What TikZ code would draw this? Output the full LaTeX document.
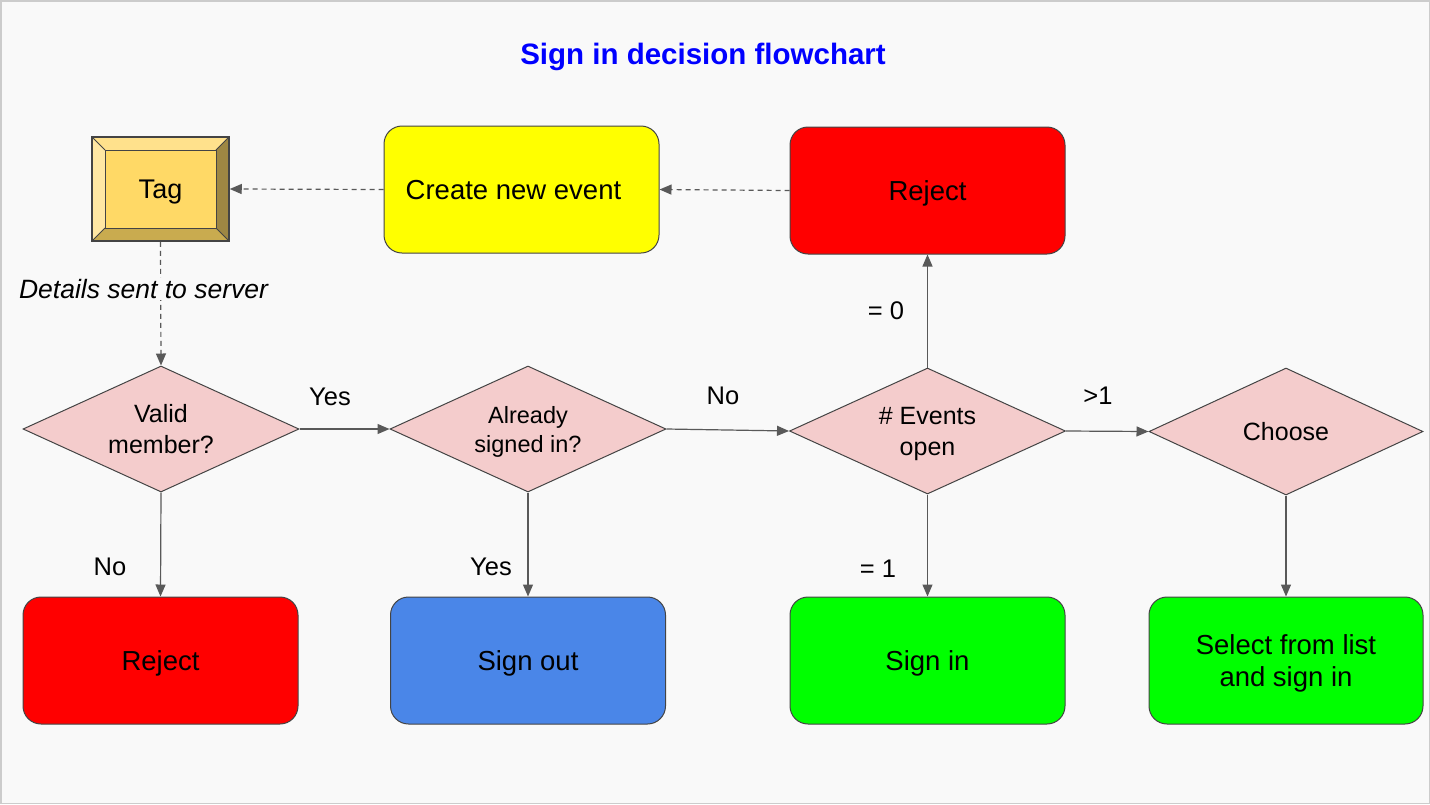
\documentclass[tikz,border=0pt]{standalone}
\usepackage{fontspec}
\setmainfont{Liberation Sans}
\usetikzlibrary{shapes.geometric,arrows.meta}
\definecolor{bgc}{HTML}{F9F9F9}
\definecolor{framec}{HTML}{CCCCCC}
\definecolor{linec}{HTML}{595959}
\definecolor{strokec}{HTML}{444444}
\definecolor{diamondc}{HTML}{F4CCCC}
\definecolor{redc}{HTML}{FF0000}
\definecolor{yellowc}{HTML}{FFFF00}
\definecolor{bluec}{HTML}{4A86E8}
\definecolor{greenc}{HTML}{00FF00}
\definecolor{titlec}{HTML}{0000FF}
\definecolor{tagc}{HTML}{FFD966}
\definecolor{tagtop}{HTML}{FFE18C}
\definecolor{tagleft}{HTML}{FFE7A3}
\definecolor{tagright}{HTML}{9E8743}
\definecolor{tagbottom}{HTML}{C9AB4F}
\begin{document}
\begin{tikzpicture}[x=1pt,y=-1pt,
  boxnode/.style={rectangle, rounded corners=18pt, draw=strokec, line width=1pt,
    minimum width=275pt, minimum height=127pt, align=center, inner sep=0pt,
    text depth=0pt, font=\fontsize{27.5}{32}\selectfont},
  decision/.style={diamond, shape aspect=2.2, draw=strokec, line width=1pt, fill=diamondc,
    minimum width=276pt, minimum height=126pt, inner sep=0pt, align=center,
    text depth=0pt, font=\fontsize{25}{31}\selectfont},
  flow/.style={draw=linec, line width=1.2pt, -{Triangle[length=12pt,width=10pt]}},
  dashflow/.style={flow, dash pattern=on 5pt off 4pt},
  lbl/.style={font=\fontsize{25.5}{30}\selectfont, inner sep=0pt}
]
\fill[bgc] (0,0) rectangle (1430,804);
\draw[framec, line width=1.5pt] (0.75,0.75) rectangle (1429.25,803.25);
\useasboundingbox (0,0) rectangle (1430,804);

\node[font=\fontsize{29.5}{34}\selectfont\bfseries, text=titlec] (title) at (703,57) {Sign in decision flowchart};

% Tag bevel box
\fill[tagtop] (92,137) -- (229,137) -- (216,150) -- (105,150) -- cycle;
\fill[tagleft] (92,137) -- (105,150) -- (105,228) -- (92,241) -- cycle;
\fill[tagright] (229,137) -- (216,150) -- (216,228) -- (229,241) -- cycle;
\fill[tagbottom] (92,241) -- (105,228) -- (216,228) -- (229,241) -- cycle;
\draw[strokec, line width=1pt] (92,137) -- (105,150) (229,137) -- (216,150) (229,241) -- (216,228) (92,241) -- (105,228);
\draw[strokec, line width=1pt, fill=tagc] (105,150) rectangle (216,228);
\node[draw=strokec, line width=1.5pt, minimum width=137pt, minimum height=104pt, inner sep=0pt,
  text depth=0pt, font=\fontsize{27}{30}\selectfont] (tag) at (160.5,189) {Tag};

\node[boxnode, fill=yellowc] (create) at (521.5,189.5) {Create new event\hspace*{16pt}};
\node[boxnode, fill=redc] (rejecttop) at (927.5,190.5) {Reject};

\node[decision] (valid) at (161,429) {Valid\\member?};
\node[decision, font=\fontsize{23.5}{29}\selectfont] (already) at (528,429) {Already\\signed in?};
\node[decision] (events) at (927.5,431) {\# Events\\open};
\node[decision, minimum width=274pt, minimum height=127pt] (choose) at (1286,431.5) {Choose};

\node[boxnode, fill=redc] (rejectbot) at (160.5,660.5) {Reject};
\node[boxnode, fill=bluec] (signout) at (528,660.5) {Sign out};
\node[boxnode, fill=greenc] (signin) at (927.5,660.5) {Sign in};
\node[boxnode, fill=greenc, minimum width=274pt] (select) at (1286,660.5) {Select from list\\and sign in};

% connectors
\draw[dashflow] (rejecttop.west) -- (create.east);
\draw[dashflow] (create.west) -- (tag.east);
\draw[dashflow] (tag.south) -- (valid.north);
\draw[flow] (valid.east) -- (already.west);
\draw[flow] (already.east) -- (events.west);
\draw[flow] (events.east) -- (choose.west);
\draw[flow] (events.north) -- (rejecttop.south);
\draw[flow] (valid.south) -- (rejectbot.north);
\draw[flow] (already.south) -- (signout.north);
\draw[flow] (events.south) -- (signin.north);
\draw[flow] (choose.south) -- (select.north);

% labels
\node[lbl, font=\fontsize{26.5}{30}\selectfont\itshape, fill=bgc, inner sep=1pt] (details) at (143.5,289) {Details sent to server};
\node[lbl] (lyes1) at (330,397) {Yes};
\node[lbl] (lno1) at (723,396) {No};
\node[lbl] (lgt1) at (1098,396) {>1};
\node[lbl] (lz0) at (886,311) {= 0};
\node[lbl] (lno2) at (110,567) {No};
\node[lbl] (lyes2) at (491,567) {Yes};
\node[lbl] (lz1) at (878,569) {= 1};
\end{tikzpicture}
\end{document}
